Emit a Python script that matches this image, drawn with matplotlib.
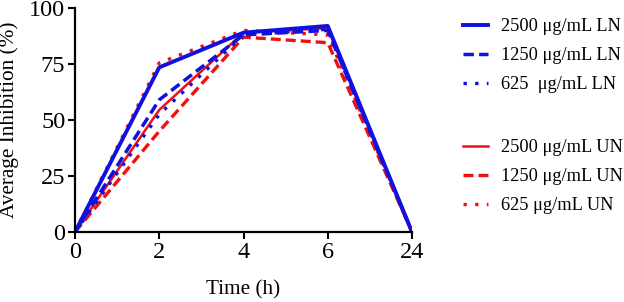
import matplotlib
matplotlib.use('Agg')
import matplotlib.pyplot as plt

time_labels = ['0', '2', '4', '6', '24']

ln_2500 = [0, 73.5, 89, 92, 0]
ln_1250 = [0, 59, 88, 90, 0]
ln_625 = [0, 52.5, 88, 90.5, 0]
un_2500 = [0, 54.5, 89, 91, 0]
un_1250 = [0, 45, 87, 84.5, 0]
un_625 = [0, 75.5, 90, 88, 0]

series_labels = ['2500 \u03bcg/mL LN', '1250 \u03bcg/mL LN', '625  \u03bcg/mL LN',
                 '2500 \u03bcg/mL UN', '1250 \u03bcg/mL UN', '625 \u03bcg/mL UN']

plt.rcParams['font.family'] = 'Liberation Serif'

fig = plt.figure(figsize=(6.24, 3.02), dpi=100)
ax = fig.add_axes([75 / 624, 1 - 232 / 302, (412 - 75) / 624, (232 - 8) / 302])

x = list(range(len(time_labels)))
blue = '#1010e0'
red = '#f01010'

styles = [
    (ln_2500, blue, '-', 2.8),
    (ln_1250, blue, (0, (3, 1.5)), 2.5),
    (ln_625, blue, (0, (1, 2.5)), 2.4),
    (un_2500, red, '-', 1.8),
    (un_1250, red, (0, (3, 1.5)), 2.4),
    (un_625, red, (0, (1, 2.5)), 2.4),
]
# draw red below blue solid
order = [4, 3, 5, 2, 1, 0]
handles = {}
for i in order:
    vals, col, ls, lw = styles[i]
    h, = ax.plot(x, vals, color=col, linestyle=ls, linewidth=lw, label=series_labels[i])
    handles[i] = h

ax.set_xlim(0, 4)
ax.set_ylim(0, 100)
ax.set_xticks(x)
ax.set_xticklabels(time_labels)
ax.set_yticks([0, 25, 50, 75, 100])
ax.tick_params(axis='both', direction='out', length=5, width=1.5, labelsize=17.5, color='black', pad=2)
for s in ['top', 'right']:
    ax.spines[s].set_visible(False)
for s in ['left', 'bottom']:
    ax.spines[s].set_linewidth(1.6)
ax.set_xlabel('Time (h)', fontsize=15.3, labelpad=12.5)
ax.set_ylabel('Average Inhibition (%)', fontsize=15.3, labelpad=7)

leg_kw = dict(loc='upper left', frameon=False, fontsize=13.2, handlelength=1.37,
              labelspacing=0.66, handletextpad=0.71, borderaxespad=0, borderpad=0)
leg1 = fig.legend([handles[0], handles[1], handles[2]], series_labels[:3],
                  bbox_to_anchor=(463 / 624, 1 - 18 / 302), **leg_kw)
leg2 = fig.legend([handles[3], handles[4], handles[5]], series_labels[3:],
                  bbox_to_anchor=(463 / 624, 1 - 139 / 302), **leg_kw)

fig.savefig('out.png', dpi=100)
